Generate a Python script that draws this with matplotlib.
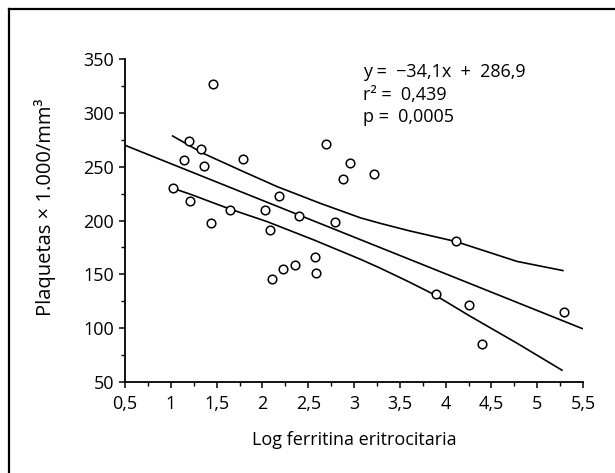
import matplotlib
matplotlib.use("Agg")
import matplotlib.pyplot as plt
from matplotlib.lines import Line2D
from matplotlib.ticker import MultipleLocator, FuncFormatter

plt.rcParams['font.family'] = ['Open Sans', 'DejaVu Sans']

# Data points (log erythrocyte ferritin, platelets x1000/mm3)
log_ferritin = [1.46, 1.20, 1.33, 1.14, 1.36, 1.79, 1.02, 1.21, 1.44, 1.65,
                2.03, 2.18, 2.08, 2.40, 2.69, 2.79, 2.96, 2.88, 2.10, 2.22,
                2.36, 2.57, 2.58, 3.22, 4.11, 3.89, 4.26, 4.40, 5.29]
plaquetas = [326.5, 274, 266, 256, 250.5, 257.5, 230, 218, 198, 210,
             210, 222.5, 191.5, 204, 271, 199, 253, 239, 145.5, 154.5,
             158.5, 166, 151, 243, 180.5, 131.5, 121.5, 85.5, 115]

# Regression line
slope = -34.1
intercept = 286.9
reg_x = [0.5, 5.5]

# Confidence bands
upper_x = [1.02, 1.35, 1.79, 2.16, 2.63, 3.07, 3.28, 3.6, 4.11, 4.78, 5.28]
band_upper = [278.5, 262.5, 245.5, 231.5, 216, 202.5, 197.5, 190.5, 180.5, 162, 153.5]
lower_x = [1.02, 1.21, 1.65, 2.05, 2.56, 3.07, 3.28, 3.6, 3.88, 4.25, 4.78, 5.27]
band_lower = [230, 224.5, 210.5, 199, 182, 164, 156, 143, 131, 112, 86, 61]

xticks = [0.5, 1, 1.5, 2, 2.5, 3, 3.5, 4, 4.5, 5, 5.5]
yticks = [50, 100, 150, 200, 250, 300, 350]

W, H = 615, 473
fig = plt.figure(figsize=(W / 100, H / 100), dpi=100)
ax = fig.add_axes([125 / W, 1 - 382 / H, 458 / W, 323 / H])

reg_y = [slope * x + intercept for x in reg_x]
ax.plot(reg_x, reg_y, color='black', lw=1.2, solid_capstyle='butt')
ax.plot(upper_x, band_upper, color='black', lw=1.2)
ax.plot(lower_x, band_lower, color='black', lw=1.2)
ax.plot(log_ferritin, plaquetas, linestyle='none', marker='o', markersize=6.2,
        markerfacecolor='white', markeredgecolor='black', markeredgewidth=1.1,
        zorder=3)

ax.set_xlim(0.5, 5.5)
ax.set_ylim(50, 350)
ax.set_xticks(xticks)
ax.set_yticks(yticks)
ax.xaxis.set_minor_locator(MultipleLocator(0.25))
ax.yaxis.set_minor_locator(MultipleLocator(25))


def fmt(v, pos):
    return ('%g' % v).replace('.', ',')


ax.xaxis.set_major_formatter(FuncFormatter(fmt))

for s in ['top', 'right']:
    ax.spines[s].set_visible(False)
for s in ['left', 'bottom']:
    ax.spines[s].set_linewidth(1.3)

ax.tick_params(axis='both', which='major', direction='out', length=4, width=1.1,
               labelsize=13, pad=4)
ax.tick_params(axis='both', which='minor', direction='out', length=3, width=1.0)
ax.tick_params(axis='x', which='major', pad=5)

ax.set_xlabel('Log ferritina eritrocitaria', fontsize=13, labelpad=13)
ax.set_ylabel('Plaquetas × 1.000/mm³', fontsize=14.5)
ax.yaxis.set_label_coords(-0.151, 0.542)

tx = 363 / W
ax_lines = ['y =  −34,1x  +  286,9', 'r² =  0,439', 'p =  0,0005']
for i, t in enumerate(ax_lines):
    fig.text(tx, 1 - (72 + 22.5 * i) / H, t, fontsize=13, va='center', ha='left')

# outer frame (left and top only)
fig.add_artist(Line2D([9 / W, 9 / W], [0, 1 - 9 / H], transform=fig.transFigure,
                      color='black', lw=1.6))
fig.add_artist(Line2D([9 / W, 1], [1 - 9 / H, 1 - 9 / H], transform=fig.transFigure,
                      color='black', lw=1.6))

fig.savefig('out.png', dpi=100)
